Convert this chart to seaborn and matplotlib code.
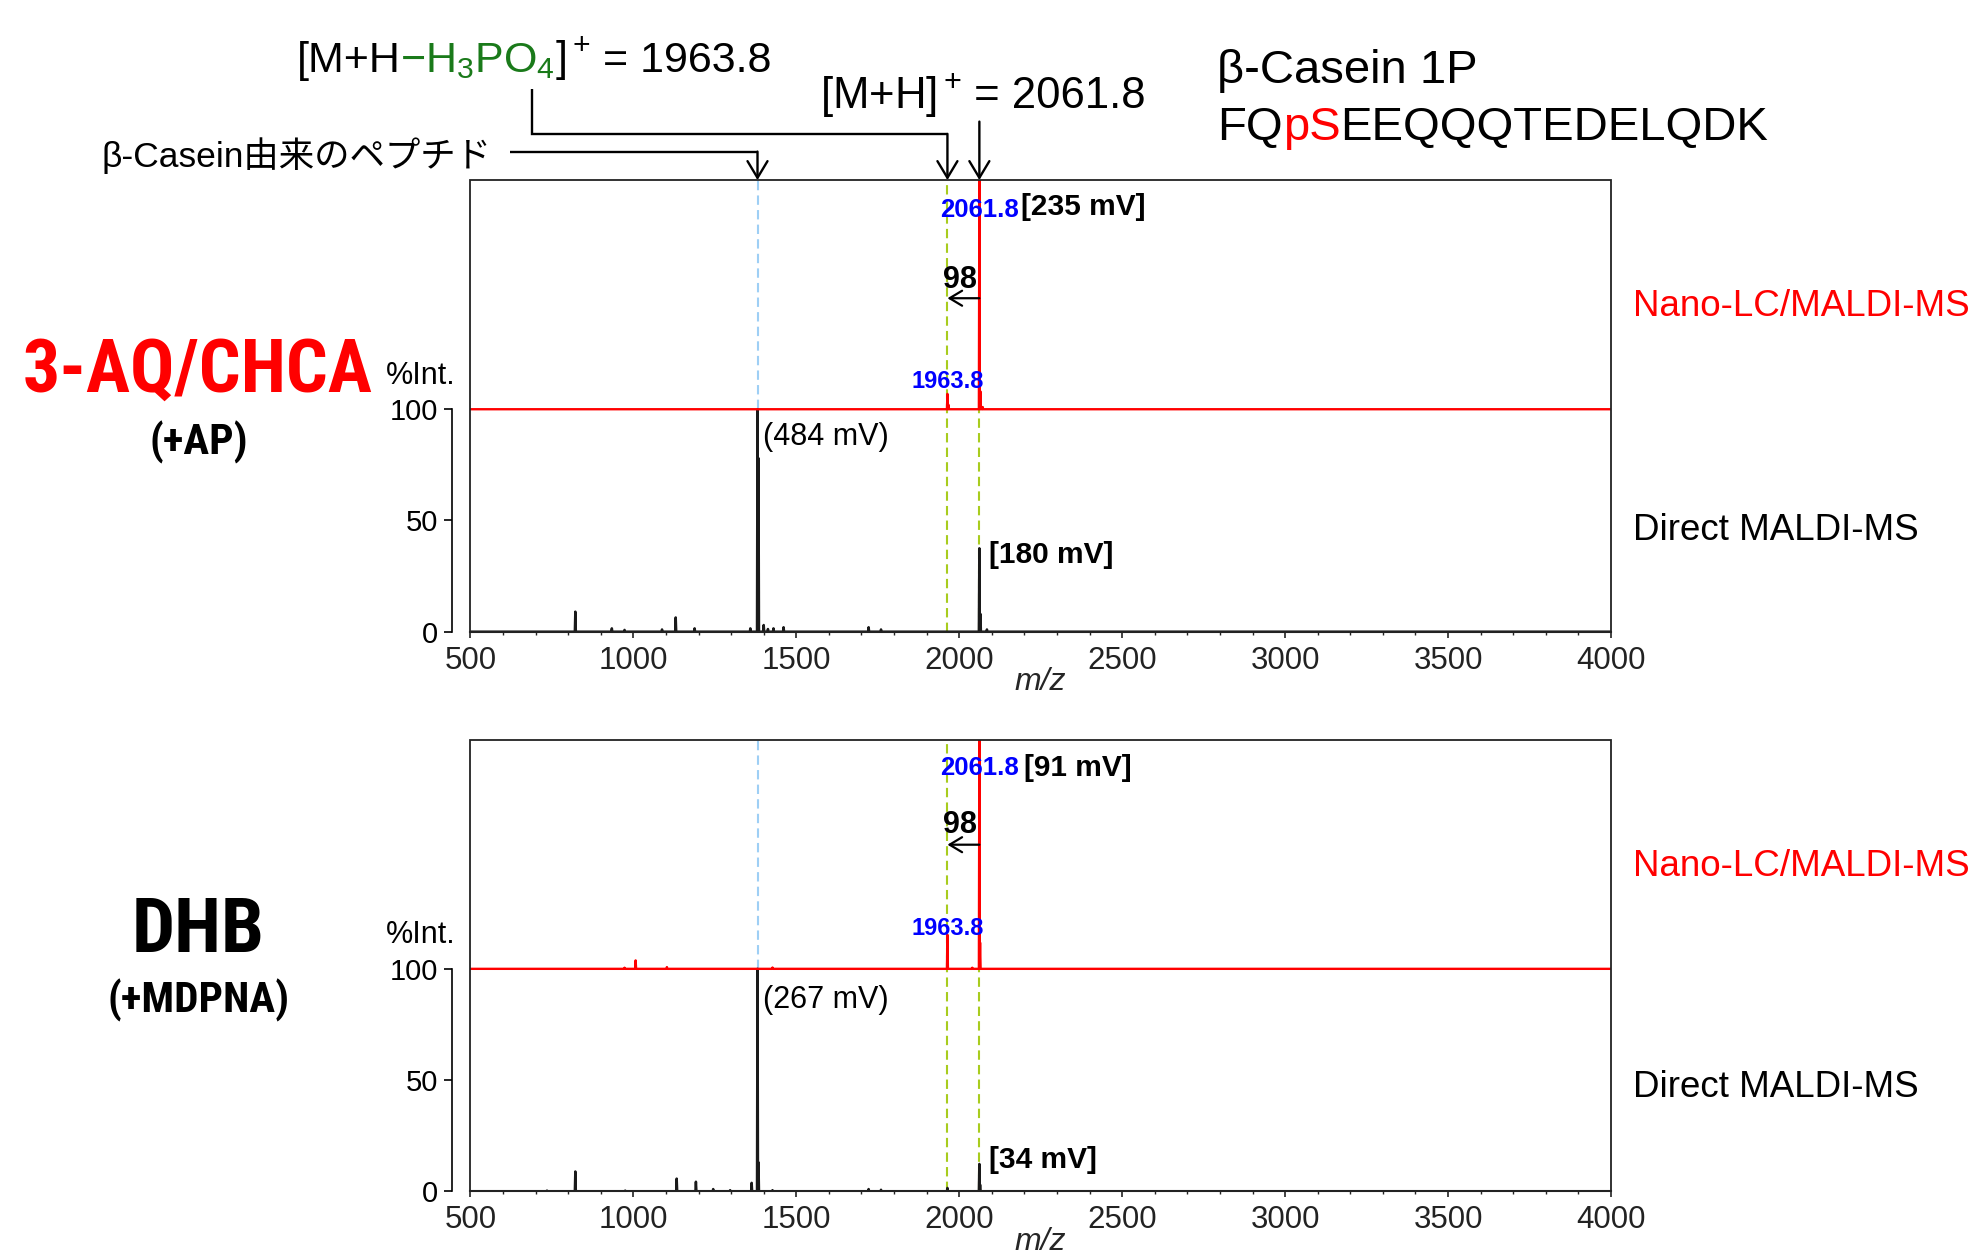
import numpy as np
import pandas as pd
import matplotlib
matplotlib.use("Agg")
import matplotlib.pyplot as plt
import matplotlib.transforms as mtransforms
from matplotlib import font_manager
from matplotlib.patches import Rectangle
from matplotlib.ticker import MultipleLocator
import seaborn as sns

# ------------------------------------------------------------------ data
MZ_MIN, MZ_MAX = 500, 4000
X_TICKS = [500, 1000, 1500, 2000, 2500, 3000, 3500, 4000]
Y_TICKS = [0, 50, 100]
Y_TOP = 203          # full height of the stacked display (% units)
NANO_OFFSET = 100    # Nano-LC trace is stacked on top of the direct trace

MZ_PEPTIDE = 1381.0  # beta-casein derived peptide (blue dashed line)
MZ_DEPHOS = 1963.8   # [M+H-H3PO4]+
MZ_PARENT = 2061.8   # [M+H]+

# panel 1 : 3-AQ/CHCA (+AP)
aq_direct_mz = [822, 934, 973, 1088, 1130, 1188, 1359, 1381, 1384, 1400, 1413,
                1430, 1461, 1722, 1760, 2061.8, 2065, 2085]
aq_direct_int = [9.0, 1.5, 0.8, 1.0, 6.4, 1.5, 1.5, 100, 78, 3.0, 1.2,
                 1.5, 2.0, 2.0, 1.0, 37.5, 8.0, 1.0]
aq_nano_mz = [1963.8, 1967, 2061.8, 2065, 2072]
aq_nano_int = [6.9, 2.0, 104, 8.0, 1.0]

# panel 2 : DHB (+MDPNA)
dhb_direct_mz = [735, 822, 975, 1133, 1192, 1245, 1297, 1363, 1381, 1384, 1427,
                 1722, 1760, 1963.8, 2061.8, 2064]
dhb_direct_int = [0.3, 8.9, 0.3, 5.7, 4.3, 1.0, 0.5, 3.8, 100, 13, 0.5,
                  1.0, 0.7, 1.5, 12.3, 3.0]
dhb_nano_mz = [973, 1007, 1103, 1427, 1963.8, 2040, 2061.8, 2064]
dhb_nano_int = [0.5, 3.8, 0.8, 0.6, 15.3, 0.5, 104, 11.8]

panel_titles = ["3-AQ/CHCA", "DHB"]
panel_subtitles = ["(+AP)", "(+MDPNA)"]
parent_mv = ["[235 mV]", "[91 mV]"]
direct_parent_mv = ["[180 mV]", "[34 mV]"]
base_mv = ["(484 mV)", "(267 mV)"]

# ------------------------------------------------------------------ style
sns.set_theme(style="ticks")
plt.rcParams["font.family"] = ["Liberation Sans", "Noto Sans CJK JP", "DejaVu Sans"]
plt.rcParams["mathtext.fontset"] = "custom"
plt.rcParams["mathtext.rm"] = "Liberation Sans"
plt.rcParams["mathtext.it"] = "Liberation Sans:italic"
plt.rcParams["mathtext.bf"] = "Liberation Sans:bold"
plt.rcParams["text.color"] = "black"
plt.rcParams["axes.edgecolor"] = "#222222"
plt.rcParams["xtick.color"] = "#222222"
plt.rcParams["ytick.color"] = "#222222"


def has_font(name):
    try:
        font_manager.findfont(font_manager.FontProperties(family=name),
                              fallback_to_default=False)
        return True
    except Exception:
        return False


NARROW = next((f for f in ["Liberation Sans Narrow", "Arial Narrow",
                           "Roboto Condensed", "DejaVu Sans Condensed"]
               if has_font(f)), None)

RED = "#FF0000"
BLUE_TXT = "#0000FF"
GREEN_TXT = "#1A7A1A"
BLUE_DASH = "#9ECFF5"
GREEN_DASH = "#A8CC1E"


def stick_profile(mz, inten, base=0.0, half_width=1.5):
    xs, ys = [MZ_MIN], [base]
    for m, h in sorted(zip(mz, inten)):
        xs += [m - half_width, m, m + half_width]
        ys += [base, base + h, base]
    xs.append(MZ_MAX)
    ys.append(base)
    return pd.DataFrame({"mz": xs, "intensity": ys})


W, H = 1987, 1251
fig = plt.figure(figsize=(W / 100, H / 100), dpi=100)
fig.patch.set_facecolor("white")

ax_left = 470.4 / W
ax_w = 1140.6 / W
ax_h = 451.6 / H
axes = [fig.add_axes([ax_left, 1 - 631.7 / H, ax_w, ax_h]),
        fig.add_axes([ax_left, 1 - 1191.3 / H, ax_w, ax_h])]

panels = [
    (aq_direct_mz, aq_direct_int, aq_nano_mz, aq_nano_int),
    (dhb_direct_mz, dhb_direct_int, dhb_nano_mz, dhb_nano_int),
]

# per-panel text positions (data y)
txt_y = [
    dict(parent=186.6, mv=187.3, d98=154.5, arr=149.9, dephos=109.6, base=83.9, dmv=30.9, direct=41.2),
    dict(parent=187.3, mv=186.5, d98=161.2, arr=155.8, dephos=115.3, base=82.4, dmv=10.3, direct=42.5),
]

for i, ax in enumerate(axes):
    dmz, dint, nmz, nint = panels[i]
    ty = txt_y[i]
    ax.set_facecolor("white")
    ax.set_xlim(MZ_MIN, MZ_MAX)
    ax.set_ylim(0, Y_TOP)

    # guide lines
    dash = (0, (4.5, 2.5))
    ax.vlines(MZ_PEPTIDE, NANO_OFFSET, Y_TOP, colors=BLUE_DASH, linestyles=dash, lw=1.5, zorder=1)
    ax.vlines(MZ_DEPHOS, 0, Y_TOP, colors=GREEN_DASH, linestyles=dash, lw=1.5, zorder=1)
    ax.vlines(MZ_PARENT, 0, NANO_OFFSET, colors=GREEN_DASH, linestyles=dash, lw=1.5, zorder=1)

    # spectra
    sns.lineplot(data=stick_profile(dmz, dint), x="mz", y="intensity", ax=ax,
                 color="#1a1a1a", lw=1.8, estimator=None, sort=False, zorder=3)
    sns.lineplot(data=stick_profile(nmz, nint, base=NANO_OFFSET), x="mz", y="intensity",
                 ax=ax, color=RED, lw=1.7, estimator=None, sort=False, zorder=4)

    # frame
    for s in ["top", "right"]:
        ax.spines[s].set_visible(False)
    ax.spines["bottom"].set_linewidth(1.5)
    ax.spines["left"].set_position(("outward", 13.3))
    ax.spines["left"].set_bounds(0, 100)
    ax.spines["left"].set_linewidth(1.2)
    ax.spines["left"].set_color("black")
    ax.add_patch(Rectangle((0, 0), 1, 1, transform=ax.transAxes, fill=False,
                           ec="#222222", lw=1.3, zorder=5, clip_on=False))

    ax.set_xticks(X_TICKS)
    ax.set_xticklabels([str(t) for t in X_TICKS])
    ax.xaxis.set_minor_locator(MultipleLocator(100))
    ax.tick_params(axis="x", which="major", direction="out", length=4, width=1.2,
                   labelsize=22.5, pad=6, bottom=True)
    ax.tick_params(axis="x", which="minor", direction="out", length=2.5, width=1.0, bottom=True)
    ax.set_yticks(Y_TICKS)
    ax.set_yticklabels([str(t) for t in Y_TICKS])
    ax.tick_params(axis="y", direction="out", length=6, width=1.2, labelsize=21,
                   pad=4, left=True, colors="black")
    ax.set_xlabel("m/z", fontsize=23, fontstyle="italic", labelpad=-6)
    ax.set_ylabel("")
    ax.text(-0.0135, 111.5, "%Int.", fontsize=22, ha="right", va="baseline",
            transform=mtransforms.blended_transform_factory(ax.transAxes, ax.transData))

    # peak annotations
    ax.text(MZ_PARENT, ty["parent"], "2061.8", color=BLUE_TXT, fontsize=18.5,
            fontweight="bold", ha="center", va="baseline", zorder=6)
    ax.text(2190 if i == 0 else 2198, ty["mv"], parent_mv[i], fontsize=21.5,
            fontweight="bold", ha="left", va="baseline", zorder=6)
    ax.text(2002, ty["d98"], "98", fontsize=22, fontweight="bold", ha="center",
            va="baseline", zorder=6)
    ax.annotate("", xy=(MZ_DEPHOS, ty["arr"]), xytext=(MZ_PARENT, ty["arr"]),
                arrowprops=dict(arrowstyle="->,head_length=0.45,head_width=0.27",
                                lw=1.6, color="black", shrinkA=0, shrinkB=0,
                                mutation_scale=20), zorder=6)
    ax.text(MZ_DEPHOS, ty["dephos"], "1963.8", color=BLUE_TXT, fontsize=17,
            fontweight="bold", ha="center", va="baseline", zorder=6)
    ax.text(1399, ty["base"], base_mv[i], fontsize=22, ha="left", va="baseline", zorder=6)
    ax.text(2092, ty["dmv"], direct_parent_mv[i], fontsize=21.5, fontweight="bold",
            ha="left", va="baseline", zorder=6)

    # right-hand trace labels
    tr = mtransforms.blended_transform_factory(ax.transAxes, ax.transData)
    ax.text(1.0193, 141.9, "Nano-LC/MALDI-MS", color=RED, fontsize=26.5,
            ha="left", va="baseline", transform=tr)
    ax.text(1.0193, ty["direct"], "Direct MALDI-MS", color="black", fontsize=26.5,
            ha="left", va="baseline", transform=tr)

# ------------------------------------------------------------------ left labels
if NARROW:
    title_kw = dict(family=[NARROW, "Liberation Sans"], fontweight="bold")
    sizes = dict(t1=53, t2=55, s=31)
else:
    title_kw = dict(fontweight="bold")
    sizes = dict(t1=44, t2=42, s=28)
fig.text(198 / W, 1 - 392 / H, panel_titles[0], color=RED, fontsize=sizes["t1"],
         ha="center", va="baseline", **title_kw)
fig.text(199 / W, 1 - 455 / H, panel_subtitles[0], color="black", fontsize=sizes["s"],
         ha="center", va="baseline", **title_kw)
fig.text(198.5 / W, 1 - 952 / H, panel_titles[1], color="black", fontsize=sizes["t2"],
         ha="center", va="baseline", **title_kw)
fig.text(199 / W, 1 - 1013 / H, panel_subtitles[1], color="black", fontsize=sizes["s"],
         ha="center", va="baseline", **title_kw)

# ------------------------------------------------------------------ top annotations
renderer = fig.canvas.get_renderer()


def chain(x_px, y_px, pieces, size):
    x = x_px / W
    for txt, col in pieces:
        t = fig.text(x, 1 - y_px / H, txt, color=col, fontsize=size,
                     ha="left", va="baseline")
        bb = t.get_window_extent(renderer)
        x = bb.x1 / W


chain(296.6, 71.7, [("[M+H", "black"),
                    (r"$\mathregular{-H_3PO_4}$", GREEN_TXT),
                    (r"$\mathregular{]^+}$", "black"),
                    (" = 1963.8", "black")], 31)
chain(820, 108, [(r"[M+H$\mathregular{]^+}$", "black"), (" = 2061.8", "black")], 31.5)
fig.text(1217 / W, 1 - 83.3 / H, "β-Casein 1P", fontsize=34, ha="left", va="baseline")
chain(1217, 140, [("FQ", "black"), ("pS", RED), ("EEQQQTEDELQDK", "black")], 34)
fig.text(102 / W, 1 - 166.7 / H, "β-Casein由来のペプチド", fontsize=25.5,
         ha="left", va="baseline")

ax = axes[0]
arrow_kw = dict(arrowstyle="->,head_length=0.6,head_width=0.36", lw=1.7,
                color="black", shrinkA=0, shrinkB=0, mutation_scale=20)
line_kw = dict(color="black", lw=1.7, clip_on=False, solid_joinstyle="miter",
               solid_capstyle="butt", zorder=7)
# beta-casein peptide pointer
ax.plot([621.5, MZ_PEPTIDE], [215.8, 215.8], **line_kw)
ax.annotate("", xy=(MZ_PEPTIDE, Y_TOP), xytext=(MZ_PEPTIDE, 215.8),
            arrowprops=arrow_kw, annotation_clip=False)
# [M+H-H3PO4]+ pointer
ax.plot([688, 688, MZ_DEPHOS], [243.9, 223.8, 223.8], **line_kw)
ax.annotate("", xy=(MZ_DEPHOS, Y_TOP), xytext=(MZ_DEPHOS, 223.8),
            arrowprops=arrow_kw, annotation_clip=False)
# [M+H]+ pointer
ax.annotate("", xy=(MZ_PARENT, Y_TOP), xytext=(MZ_PARENT, 229.3),
            arrowprops=arrow_kw, annotation_clip=False)

fig.savefig("out.png", dpi=100, facecolor="white")
